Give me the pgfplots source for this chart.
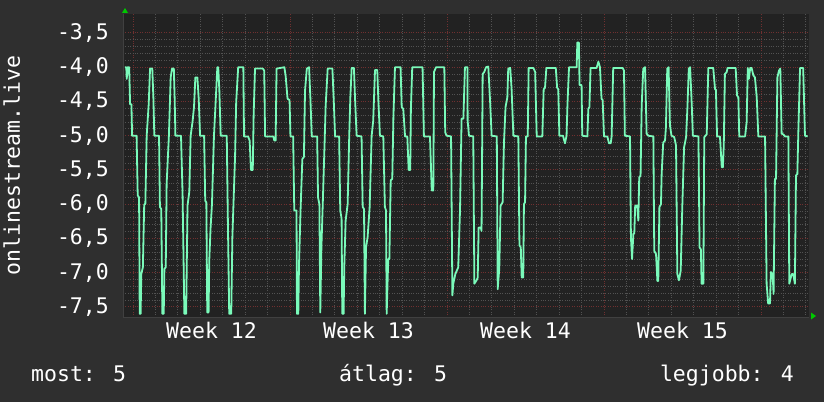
\documentclass[border=0pt]{standalone}
\usepackage{fontspec}
\setmainfont{DejaVu Sans Mono}
\usepackage{pgfplots}
\usepackage{pgfplotstable}
\pgfplotsset{compat=1.18}

\definecolor{outerbg}{RGB}{47,47,47}
\definecolor{plotbg}{RGB}{34,34,34}
\definecolor{gridgray}{RGB}{82,82,82}
\definecolor{gridred}{RGB}{112,48,48}
\definecolor{linegreen}{RGB}{122,250,186}
\definecolor{arrowgreen}{RGB}{0,200,0}
\definecolor{axisgray}{RGB}{64,64,64}

% day (0 = start of week 12), value
\pgfplotstableread{
day val
-0.36 -4.00
-0.30 -4.00
-0.28 -4.17
-0.24 -4.00
-0.17 -4.00
-0.13 -4.54
-0.07 -4.54
-0.04 -5.00
0.16 -5.00
0.21 -5.87
0.27 -5.90
0.30 -7.60
0.34 -7.60
0.37 -7.02
0.44 -6.92
0.50 -6.00
0.55 -6.00
0.61 -5.00
0.70 -4.54
0.76 -4.02
0.86 -4.02
0.91 -4.46
0.95 -5.00
1.16 -5.00
1.20 -6.04
1.26 -6.07
1.31 -7.60
1.37 -7.60
1.40 -6.94
1.46 -6.92
1.50 -5.70
1.60 -5.00
1.68 -4.15
1.74 -4.02
1.82 -4.02
1.86 -4.49
1.89 -5.00
2.14 -5.00
2.21 -5.85
2.29 -7.60
2.37 -7.60
2.43 -6.02
2.51 -5.82
2.57 -5.00
2.66 -4.78
2.72 -4.58
2.78 -4.15
2.87 -4.15
2.93 -4.46
2.99 -5.00
3.17 -5.00
3.22 -5.95
3.27 -5.97
3.31 -7.58
3.37 -7.58
3.40 -6.82
3.46 -6.34
3.52 -6.00
3.61 -5.00
3.68 -4.54
3.76 -4.00
3.80 -4.00
3.85 -4.34
3.91 -5.00
4.18 -5.00
4.24 -6.48
4.29 -7.60
4.38 -7.60
4.43 -6.48
4.55 -5.31
4.60 -4.51
4.69 -4.00
4.92 -4.00
4.95 -5.01
5.13 -5.01
5.20 -5.07
5.26 -5.50
5.34 -5.50
5.38 -4.68
5.44 -4.02
5.79 -4.02
5.85 -4.05
5.89 -5.01
6.26 -5.01
6.30 -5.07
6.36 -5.07
6.40 -4.02
6.75 -4.00
6.81 -4.14
6.89 -4.46
6.98 -4.48
7.02 -5.01
7.14 -5.01
7.19 -6.09
7.29 -6.09
7.31 -7.60
7.37 -7.60
7.40 -6.90
7.47 -6.09
7.55 -5.34
7.62 -5.31
7.67 -4.34
7.75 -4.02
7.85 -4.00
7.91 -4.46
7.97 -5.01
8.21 -5.01
8.25 -5.90
8.31 -6.00
8.35 -7.58
8.40 -6.63
8.46 -6.00
8.53 -5.24
8.59 -4.56
8.68 -4.02
8.89 -4.02
8.95 -4.48
9.01 -5.01
9.19 -5.01
9.24 -6.09
9.30 -6.21
9.33 -7.60
9.39 -7.60
9.42 -6.91
9.48 -6.24
9.57 -6.00
9.64 -5.01
9.69 -4.44
9.75 -4.01
9.85 -4.01
9.90 -4.46
9.97 -5.00
10.19 -5.01
10.24 -6.04
10.30 -6.07
10.34 -7.60
10.39 -6.63
10.46 -6.48
10.55 -6.05
10.64 -5.00
10.71 -4.78
10.79 -4.04
10.89 -4.04
10.94 -4.49
11.01 -5.00
11.16 -5.01
11.23 -6.04
11.28 -6.09
11.31 -7.60
11.38 -6.80
11.43 -6.80
11.49 -5.65
11.56 -5.63
11.61 -4.73
11.68 -4.00
11.93 -4.00
11.98 -4.58
12.05 -4.61
12.13 -5.01
12.23 -5.01
12.29 -5.50
12.36 -5.50
12.39 -4.61
12.45 -4.00
12.91 -4.00
12.97 -5.01
13.24 -5.01
13.32 -5.80
13.39 -5.80
13.42 -4.07
13.51 -4.00
13.88 -4.00
13.92 -4.95
13.98 -5.00
14.18 -5.01
14.24 -7.33
14.28 -7.16
14.37 -7.02
14.50 -6.92
14.58 -6.09
14.65 -4.75
14.73 -4.75
14.80 -4.00
14.91 -4.00
14.92 -4.78
14.98 -5.00
15.17 -5.01
15.22 -7.16
15.32 -7.11
15.37 -7.07
15.41 -6.34
15.51 -6.34
15.54 -6.39
15.59 -4.10
15.66 -4.07
15.74 -4.00
15.84 -3.99
15.92 -4.49
15.99 -5.00
16.22 -5.01
16.26 -7.24
16.33 -6.94
16.39 -6.02
16.48 -5.97
16.54 -5.10
16.61 -4.58
16.69 -4.44
16.73 -4.02
16.82 -4.01
16.88 -4.32
16.96 -5.00
17.18 -5.01
17.23 -6.60
17.29 -6.63
17.33 -7.07
17.40 -7.07
17.43 -6.00
17.48 -5.97
17.52 -5.01
17.60 -5.01
17.64 -4.01
17.85 -4.01
17.93 -4.07
18.00 -5.01
18.25 -5.01
18.31 -4.32
18.37 -4.30
18.43 -4.01
18.85 -4.01
18.91 -4.30
18.96 -4.32
19.01 -5.00
19.17 -5.00
19.26 -5.11
19.33 -5.00
19.37 -4.55
19.44 -4.00
19.78 -4.00
19.81 -3.64
19.88 -3.64
19.91 -4.26
20.00 -4.26
20.03 -5.00
20.26 -5.01
20.30 -4.61
20.35 -4.58
20.40 -4.01
20.67 -4.01
20.75 -3.92
20.82 -4.00
20.89 -4.46
20.94 -4.48
21.00 -5.01
21.15 -5.01
21.22 -5.11
21.30 -5.11
21.34 -5.01
21.41 -4.01
21.83 -4.01
21.89 -4.05
21.93 -5.00
22.16 -5.01
22.20 -6.48
22.25 -6.80
22.31 -6.43
22.35 -6.43
22.39 -6.02
22.48 -6.02
22.53 -6.24
22.57 -5.61
22.63 -5.58
22.68 -4.56
22.75 -4.02
22.83 -4.00
22.90 -4.97
22.97 -5.00
23.20 -5.01
23.24 -6.68
23.32 -6.73
23.38 -7.12
23.42 -7.12
23.47 -6.04
23.54 -6.00
23.57 -5.56
23.64 -5.10
23.72 -5.07
23.76 -4.88
23.82 -4.02
23.88 -4.00
23.94 -4.85
24.01 -5.00
24.13 -5.02
24.21 -5.14
24.27 -7.02
24.34 -7.11
24.42 -6.97
24.49 -6.04
24.57 -5.17
24.66 -5.02
24.72 -4.58
24.78 -4.02
24.84 -4.00
24.92 -4.61
24.96 -5.00
25.21 -5.01
25.26 -6.63
25.32 -6.66
25.35 -7.16
25.43 -7.16
25.47 -5.02
25.58 -4.98
25.65 -4.01
25.87 -4.01
25.95 -4.32
25.99 -4.33
26.04 -5.01
26.17 -5.01
26.25 -5.46
26.30 -5.46
26.34 -5.14
26.39 -4.10
26.47 -4.07
26.51 -4.01
26.87 -4.01
26.93 -4.41
26.99 -4.44
27.03 -5.01
27.29 -5.01
27.36 -4.80
27.41 -4.01
27.46 -4.17
27.52 -4.01
27.58 -4.01
27.66 -4.12
27.73 -4.15
27.81 -4.44
27.88 -5.01
28.18 -5.01
28.25 -7.16
28.32 -7.45
28.40 -7.45
28.44 -6.99
28.52 -7.02
28.56 -7.31
28.62 -5.63
28.67 -5.63
28.73 -4.15
28.80 -4.05
28.86 -4.02
28.92 -4.97
28.99 -4.98
29.07 -5.01
29.22 -5.01
29.26 -7.16
29.37 -7.02
29.44 -7.02
29.51 -7.16
29.56 -5.58
29.62 -5.56
29.66 -5.00
29.74 -4.01
29.88 -4.01
29.96 -5.00
30.08 -5.01
}\onlinedata

\begin{document}
\begin{tikzpicture}[font=\fontsize{21.5}{24}\selectfont, text=white]
  \fill[outerbg] (0,0) rectangle (824pt,402pt);
  \useasboundingbox (0,0) rectangle (824pt,402pt);
  \begin{axis}[
    at={(123pt,85pt)}, anchor=south west,
    scale only axis, width=686pt, height=303pt,
    xmin=-0.446, xmax=30.14,
    ymin=-7.646, ymax=-3.223,
    axis background/.style={fill=plotbg},
    axis x line*=bottom, axis y line*=left,
    axis line style={axisgray, line width=1pt},
    tick style={draw=none},
    xtick={0,7,14,21,28},
    xticklabels={,,,,},
    minor xtick={1,2,3,4,5,6,8,9,10,11,12,13,15,16,17,18,19,20,22,23,24,25,26,27,29,30},
    extra x ticks={3.5,10.5,17.5,24.5},
    extra x tick labels={Week 12,Week 13,Week 14,Week 15},
    extra x tick style={grid=none},
    xticklabel style={anchor=base, inner sep=0pt, yshift=-21pt},
    ytick={-7.5,-7,-6.5,-6,-5.5,-5,-4.5,-4,-3.5},
    yticklabels={{-7,5},{-7,0},{-6,5},{-6,0},{-5,5},{-5,0},{-4,5},{-4,0},{-3,5}},
    minor y tick num=4,
    yticklabel style={anchor=east, inner sep=0pt, xshift=-14pt},
    tick label style={font=\fontsize{21.5}{24}\selectfont, text=white},
    grid=both,
    major grid style={gridred, dotted, line width=1pt},
    minor grid style={gridgray, dotted, line width=1pt},
  ]
    \addplot[linegreen, line width=1.8pt, line join=round, no marks]
      table[x=day, y=val] {\onlinedata};
  \end{axis}
  % axis arrows
  \fill[arrowgreen] (122pt,389pt) -- (128pt,389pt) -- (125pt,394pt) -- cycle;
  \fill[arrowgreen] (811pt,82.5pt) -- (811pt,89.5pt) -- (816pt,86pt) -- cycle;
  % y label
  \node[rotate=90, anchor=base, inner sep=0pt] at (20pt,236.5pt) {onlinestream.live};
  % summary line
  \node[anchor=base west, inner sep=0pt] at (31pt,20.5pt) {most: 5};
  \node[anchor=base west, inner sep=0pt] at (339pt,20.5pt) {átlag: 5};
  \node[anchor=base east, inner sep=0pt] at (794pt,20.5pt) {legjobb: 4};
\end{tikzpicture}
\end{document}
